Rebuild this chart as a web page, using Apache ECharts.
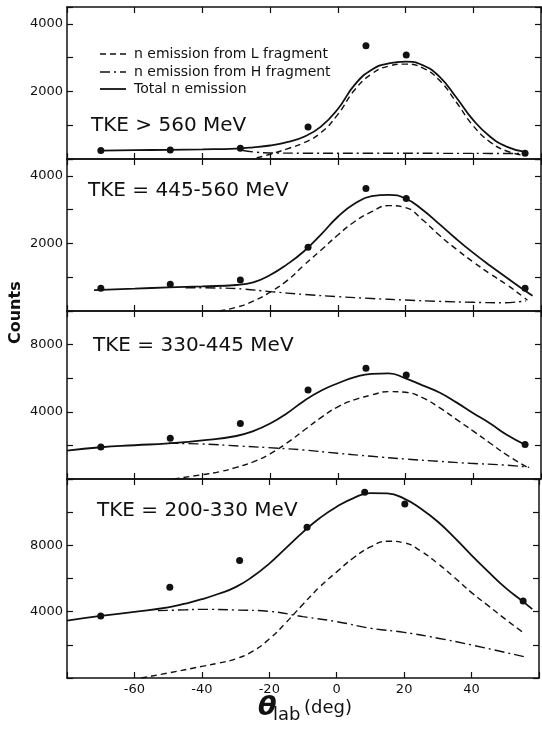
<!DOCTYPE html>
<html>
<head>
<meta charset="utf-8">
<script src="https://cdn.jsdelivr.net/npm/echarts@6/dist/echarts.min.js"></script>
<style>
  html, body { margin: 0; padding: 0; background: #fff; }
  #chart { width: 542px; height: 731px; }
</style>
</head>
<body>
<div id="chart"></div>
<script>
// Laboratory angles (deg) of the measured points, shared by all TKE bins
const angles = [-70, -49.5, -28.8, -8.8, 8.3, 20.2, 55.3];

// Measured neutron counts per TKE bin
const counts560 = [250, 270, 320, 950, 3350, 3080, 170];
const counts445 = [670, 790, 920, 1890, 3630, 3330, 670];
const counts330 = [1900, 2420, 3310, 5300, 6590, 6190, 2060];
const counts200 = [3740, 5470, 7080, 9090, 11200, 10500, 4640];

// Calculated curves: [angle, counts]
const total560 = [[-70,250],[-60,262],[-50,272],[-40,285],[-30,310],[-25,345],[-20,400],[-15,500],[-10,660],[-5,960],[0,1480],[5,2200],[10,2640],[15,2830],[20,2880],[25,2780],[30,2440],[35,1820],[40,1150],[45,660],[50,360],[55,216]];
const lFrag560 = [[-24,30],[-20,140],[-15,300],[-10,480],[-5,780],[0,1320],[5,2050],[10,2520],[15,2750],[20,2810],[25,2700],[30,2330],[35,1680],[40,980],[45,500],[50,230],[55,110]];
const hFrag560 = [[-28,250],[-24,200],[-20,178],[-10,172],[10,170],[30,168],[45,165],[56,160]];

const total445 = [[-72,620],[-60,660],[-50,700],[-40,730],[-30,770],[-25,850],[-20,1065],[-15,1380],[-10,1770],[-5,2260],[0,2790],[5,3180],[10,3400],[15,3440],[20,3330],[25,3000],[30,2570],[35,2130],[40,1720],[45,1340],[50,980],[55,620],[57.5,450]];
const lFrag445 = [[-35,0],[-30,110],[-25,290],[-20,560],[-15,900],[-10,1360],[-5,1800],[0,2250],[5,2650],[10,2940],[15,3120],[20,3060],[25,2700],[30,2240],[35,1830],[40,1450],[45,1100],[50,770],[55,400],[56,320]];
const hFrag445 = [[-45,690],[-35,680],[-28,650],[-20,575],[-10,490],[0,425],[10,370],[20,325],[30,285],[40,257],[49,245],[55.5,300]];

const total330 = [[-80,1690],[-70,1890],[-60,2010],[-50,2125],[-40,2300],[-30,2560],[-25,2850],[-20,3300],[-15,3920],[-10,4650],[-5,5250],[0,5700],[5,6060],[10,6260],[15,6290],[20,5990],[25,5570],[30,5150],[35,4560],[40,3920],[45,3300],[50,2620],[55.5,2020]];
const lFrag330 = [[-48.5,0],[-40,260],[-35,430],[-30,690],[-25,1020],[-20,1500],[-15,2150],[-10,2900],[-5,3650],[0,4300],[5,4720],[10,5000],[15,5200],[20,5160],[25,4840],[30,4250],[35,3550],[40,2850],[45,2130],[50,1420],[56.5,630]];
const hFrag330 = [[-50,2125],[-40,2080],[-29,1960],[-17,1825],[-10,1725],[0,1530],[10,1350],[20,1190],[30,1050],[39,935],[49,835],[56.5,700]];

const total200 = [[-80,3460],[-70,3740],[-60,3990],[-50,4260],[-45,4480],[-40,4750],[-35,5080],[-30,5480],[-25,6100],[-20,6900],[-15,7850],[-10,8800],[-5,9650],[0,10330],[5,10850],[10,11150],[15,11130],[20,10820],[25,10200],[30,9420],[35,8450],[40,7400],[45,6400],[50,5450],[55,4650],[58,4150]];
const lFrag200 = [[-58,0],[-50,300],[-40,700],[-35,900],[-30,1150],[-25,1600],[-20,2350],[-15,3350],[-10,4450],[-5,5500],[0,6400],[5,7250],[10,7900],[15,8250],[20,8150],[25,7650],[30,6900],[35,6050],[40,5150],[45,4350],[50,3550],[55,2790]];
const hFrag200 = [[-53,4060],[-45,4110],[-40,4140],[-30,4100],[-20,4020],[-10,3700],[0,3400],[10,3000],[20,2750],[30,2400],[40,1990],[55.5,1285]];

// Panel titles and y-axis settings (top to bottom)
const panelTitles = ['TKE > 560 MeV', 'TKE = 445-560 MeV', 'TKE = 330-445 MeV', 'TKE = 200-330 MeV'];
const yMax = [4500, 4500, 10000, 12000];
const yStep = [1000, 1000, 2000, 2000];
const yLabelled = [[2000, 4000], [2000, 4000], [4000, 8000], [4000, 8000]];
const xTickLabels = [-60, -40, -20, 0, 20, 40];

const NAME_L = 'n emission from L fragment';
const NAME_H = 'n emission from H fragment';
const NAME_T = 'Total n emission';

const panels = [
  { counts: counts560, total: total560, l: lFrag560, h: hFrag560 },
  { counts: counts445, total: total445, l: lFrag445, h: hFrag445 },
  { counts: counts330, total: total330, l: lFrag330, h: hFrag330 },
  { counts: counts200, total: total200, l: lFrag200, h: hFrag200 }
];

// Pixel layout of the stacked panels
const edges = [7, 159, 311, 479, 678];
const W = 542, H = 731;
const FONT = 'DejaVu Sans';
const INK = '#111';
const DASH_L = [6, 4];
const DASH_H = [10, 4, 2, 4];

const grids = [], xAxes = [], yAxes = [], series = [], graphics = [];

panels.forEach((p, i) => {
  grids.push({ left: 67, right: 1, top: edges[i], height: edges[i + 1] - edges[i] });
  const lineCommon = { onZero: false, lineStyle: { color: INK, width: 1.5 } };
  const tickCommon = { inside: true, length: 6, lineStyle: { color: INK, width: 1.2 } };
  // bottom and top x axes
  xAxes.push({
    type: 'value', gridIndex: i, position: 'bottom', min: -80, max: 60, interval: 20,
    axisLine: lineCommon, axisTick: tickCommon, splitLine: { show: false },
    axisLabel: {
      show: i === panels.length - 1, margin: 5, color: INK, fontFamily: FONT, fontSize: 13,
      formatter: v => xTickLabels.indexOf(v) >= 0 ? String(v) : ''
    }
  });
  xAxes.push({
    type: 'value', gridIndex: i, position: 'top', min: -80, max: 60, interval: 20,
    axisLine: lineCommon, axisTick: tickCommon, splitLine: { show: false }, axisLabel: { show: false }
  });
  // left and right y axes
  yAxes.push({
    type: 'value', gridIndex: i, position: 'left', min: 0, max: yMax[i], interval: yStep[i],
    axisLine: lineCommon, axisTick: tickCommon, splitLine: { show: false },
    axisLabel: {
      margin: 4, color: INK, fontFamily: FONT, fontSize: 13,
      formatter: v => yLabelled[i].indexOf(v) >= 0 ? String(v) : ''
    }
  });
  yAxes.push({
    type: 'value', gridIndex: i, position: 'right', min: 0, max: yMax[i], interval: yStep[i],
    axisLine: lineCommon, axisTick: tickCommon, splitLine: { show: false }, axisLabel: { show: false }
  });

  const xi = i * 2, yi = i * 2;
  const curve = (name, data, style) => ({
    name, type: 'line', xAxisIndex: xi, yAxisIndex: yi, data,
    smooth: 0.5, symbol: 'none', showSymbol: false, z: 3,
    lineStyle: Object.assign({ color: INK }, style), itemStyle: { color: INK }
  });
  series.push(curve(NAME_L, p.l, { width: 1.4, type: DASH_L }));
  series.push(curve(NAME_H, p.h, { width: 1.4, type: DASH_H }));
  series.push(curve(NAME_T, p.total, { width: 1.8, type: 'solid' }));
  series.push({
    name: 'Measured', type: 'scatter', xAxisIndex: xi, yAxisIndex: yi,
    data: angles.map((a, k) => [a, p.counts[k]]),
    symbol: 'circle', symbolSize: 7, itemStyle: { color: INK, opacity: 1 }, z: 4
  });
});

// Key for the three curve styles
const keyRows = [[NAME_L, DASH_L, 1.4, 54], [NAME_H, DASH_H, 1.4, 72], [NAME_T, null, 1.8, 89]];
keyRows.forEach(([label, dash, width, y]) => {
  graphics.push({
    type: 'line', shape: { x1: 100, y1: y, x2: 126, y2: y },
    style: { stroke: INK, lineWidth: width, lineDash: dash }
  });
  graphics.push({
    type: 'text', x: 134, y: y,
    style: { text: label, fill: INK, font: `14px "${FONT}"`, verticalAlign: 'middle' }
  });
});

// Panel titles
const titleSpots = [[91, 125], [88, 190], [93, 344.5], [97, 509.5]];
panelTitles.forEach((t, i) => {
  graphics.push({
    type: 'text', x: titleSpots[i][0], y: titleSpots[i][1] + 1,
    style: { text: t, fill: INK, font: `20px "${FONT}"`, verticalAlign: 'middle' }
  });
});

// Axis titles
graphics.push({
  type: 'text', rotation: Math.PI / 2, x: 8, y: 344,
  style: { text: 'Counts', fill: INK, font: `bold 16px "${FONT}"`, verticalAlign: 'top' }
});
graphics.push({
  type: 'text', x: 258, y: 694,
  style: { text: 'θ', fill: INK, font: `italic bold 27px "${FONT}"`, verticalAlign: 'top' }
});
graphics.push({
  type: 'text', x: 273, y: 706,
  style: { text: 'lab', fill: INK, font: `18px "${FONT}"`, verticalAlign: 'top' }
});
graphics.push({
  type: 'text', x: 304, y: 699,
  style: { text: '(deg)', fill: INK, font: `18px "${FONT}"`, verticalAlign: 'top' }
});

const chart = echarts.init(document.getElementById('chart'), null, { renderer: 'canvas', width: W, height: H });
chart.setOption({
  animation: false,
  backgroundColor: '#fff',
  grid: grids,
  xAxis: xAxes,
  yAxis: yAxes,
  series,
  graphic: graphics
});
</script>
</body>
</html>
